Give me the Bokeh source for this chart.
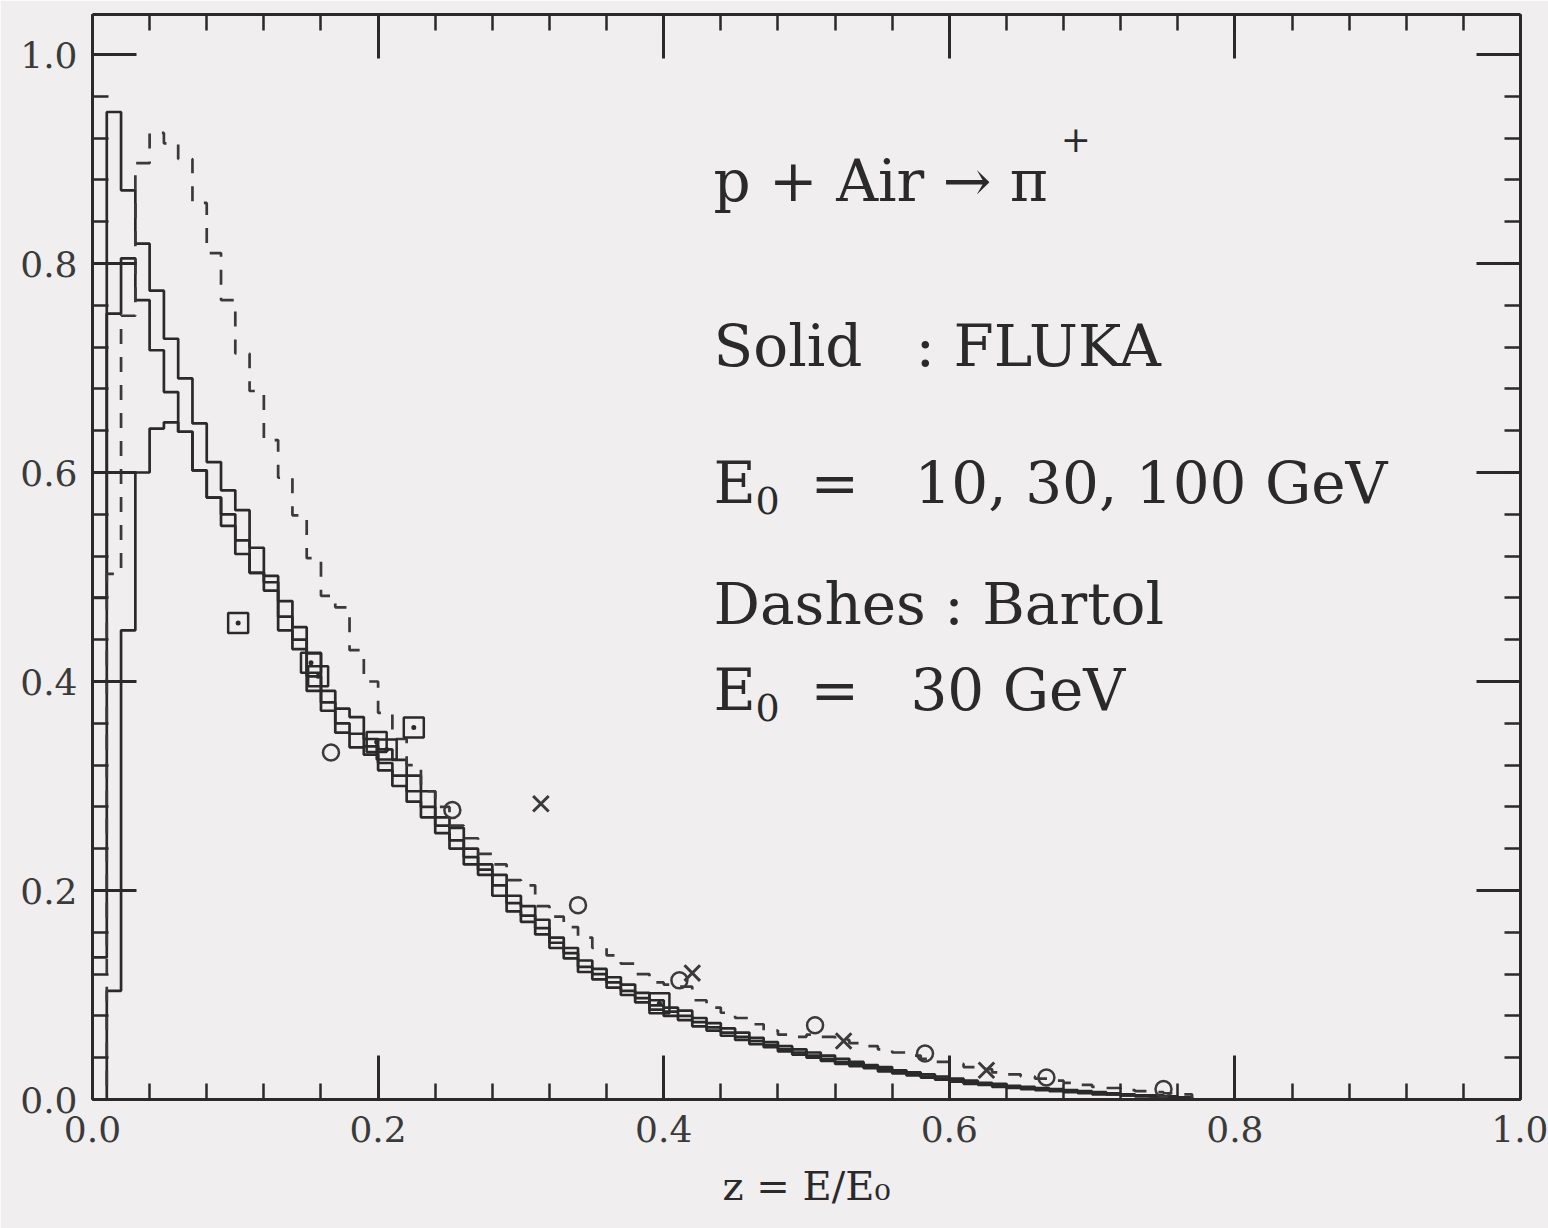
import numpy as np
from bokeh.plotting import figure
from bokeh.models import (Range1d, LinearAxis, SingleIntervalTicker,
                          PrintfTickFormatter, CustomJSTickFormatter, Label)
from bokeh.embed import file_html
from bokeh.resources import INLINE

# ---------------------------------------------------------------------------
# z * dN/dz for p + Air -> pi+, histogrammed in bins of width 0.01 in z
# ---------------------------------------------------------------------------
BIN_WIDTH = 0.01

fluka_100 = [0.480, 0.945, 0.870, 0.819, 0.774, 0.728, 0.690, 0.647, 0.610, 0.583,
             0.564, 0.528, 0.501, 0.477, 0.452, 0.427, 0.391, 0.374, 0.366, 0.345,
             0.335, 0.325, 0.310, 0.295, 0.270, 0.260, 0.240, 0.225, 0.215, 0.195,
             0.185, 0.172, 0.155, 0.145, 0.133, 0.125, 0.117, 0.110, 0.102, 0.095,
             0.088, 0.085, 0.078, 0.073, 0.068, 0.064, 0.059, 0.055, 0.051, 0.048,
             0.045, 0.042, 0.039, 0.036, 0.033, 0.031, 0.028, 0.026, 0.024, 0.022,
             0.020, 0.018, 0.016, 0.015, 0.013, 0.012, 0.011, 0.010, 0.009, 0.008,
             0.007, 0.006, 0.005, 0.004, 0.004, 0.003, 0.002]

fluka_30 = [0.136, 0.752, 0.805, 0.765, 0.717, 0.677, 0.639, 0.602, 0.576, 0.549,
            0.522, 0.504, 0.487, 0.449, 0.431, 0.391, 0.372, 0.351, 0.337, 0.330,
            0.315, 0.300, 0.285, 0.270, 0.255, 0.240, 0.225, 0.215, 0.195, 0.180,
            0.170, 0.158, 0.145, 0.135, 0.122, 0.115, 0.107, 0.100, 0.093, 0.086,
            0.080, 0.076, 0.070, 0.066, 0.061, 0.057, 0.053, 0.050, 0.046, 0.043,
            0.040, 0.037, 0.034, 0.032, 0.030, 0.027, 0.025, 0.023, 0.021, 0.019,
            0.017, 0.015, 0.014, 0.012, 0.011, 0.010, 0.009, 0.008, 0.007, 0.006,
            0.005, 0.005, 0.004, 0.003, 0.003, 0.002, 0.002]

fluka_10 = [0.000, 0.104, 0.449, 0.600, 0.642, 0.648, 0.639, 0.602, 0.576, 0.560,
            0.535, 0.504, 0.495, 0.462, 0.440, 0.405, 0.380, 0.360, 0.350, 0.338,
            0.322, 0.310, 0.295, 0.280, 0.262, 0.248, 0.232, 0.220, 0.205, 0.188,
            0.176, 0.164, 0.150, 0.140, 0.127, 0.120, 0.112, 0.104, 0.097, 0.090,
            0.084, 0.080, 0.074, 0.069, 0.064, 0.060, 0.056, 0.052, 0.048, 0.045,
            0.042, 0.039, 0.036, 0.034, 0.031, 0.029, 0.026, 0.024, 0.022, 0.020,
            0.018, 0.016, 0.015, 0.013, 0.012, 0.011, 0.010, 0.009, 0.008, 0.007,
            0.006, 0.005, 0.004, 0.004, 0.003, 0.002, 0.001]

bartol_30 = [0.000, 0.503, 0.750, 0.896, 0.925, 0.915, 0.900, 0.858, 0.810, 0.765,
             0.714, 0.678, 0.631, 0.595, 0.559, 0.518, 0.482, 0.471, 0.430, 0.400,
             0.370, 0.345, 0.320, 0.295, 0.280, 0.262, 0.250, 0.235, 0.225, 0.210,
             0.205, 0.185, 0.175, 0.165, 0.155, 0.145, 0.138, 0.130, 0.120, 0.112,
             0.110, 0.108, 0.095, 0.088, 0.083, 0.078, 0.072, 0.066, 0.062, 0.060,
             0.062, 0.060, 0.057, 0.054, 0.051, 0.048, 0.045, 0.042, 0.039, 0.036,
             0.034, 0.031, 0.029, 0.026, 0.024, 0.022, 0.020, 0.018, 0.016, 0.014,
             0.012, 0.011, 0.009, 0.008, 0.007, 0.006, 0.005]

# measured points
sq_z = [0.102, 0.153, 0.158, 0.199, 0.206, 0.225, 0.397]
sq_v = [0.456, 0.418, 0.405, 0.342, 0.335, 0.356, 0.092]

circ_z = [0.167, 0.252, 0.340, 0.411, 0.506, 0.583, 0.668, 0.750]
circ_v = [0.332, 0.277, 0.186, 0.114, 0.071, 0.044, 0.021, 0.010]

cross_z = [0.314, 0.420, 0.526, 0.626]
cross_v = [0.283, 0.121, 0.056, 0.028]

# ---------------------------------------------------------------------------
INK = "#2a2a2a"
LABEL_INK = "#3a3a3a"
PAPER = "#f0eeee"
SERIF = "DejaVu Serif"

p = figure(width=1548, height=1228, output_backend="svg", toolbar_location=None,
           x_range=Range1d(0, 1), y_range=Range1d(0, 1.0383),
           min_border_left=92, min_border_right=28,
           min_border_top=14, min_border_bottom=129,
           background_fill_color=PAPER, border_fill_color=PAPER)
p.grid.visible = False
p.outline_line_color = None


def style_axis(ax, with_labels):
    ax.ticker = SingleIntervalTicker(interval=0.2, num_minor_ticks=5)
    ax.axis_line_color = INK
    ax.axis_line_width = 3
    ax.major_tick_line_color = INK
    ax.minor_tick_line_color = INK
    ax.major_tick_line_width = 3
    ax.minor_tick_line_width = 2.5
    ax.major_tick_in = 44
    ax.major_tick_out = 0
    ax.minor_tick_in = 16
    ax.minor_tick_out = 0
    if with_labels:
        ax.formatter = PrintfTickFormatter(format="%.1f")
        ax.major_label_text_font = SERIF
        ax.major_label_text_font_size = "36px"
        ax.major_label_text_color = LABEL_INK
    else:
        ax.formatter = CustomJSTickFormatter(code="return ''")
        ax.major_label_standoff = 0


xaxis = p.below[0]
yaxis = p.left[0]
style_axis(xaxis, True)
style_axis(yaxis, True)
xaxis.major_label_standoff = 16
yaxis.major_label_standoff = 15
xaxis.axis_label = "z\u00a0=\u00a0E/E\u2080"
xaxis.axis_label_text_font = SERIF
xaxis.axis_label_text_font_size = "40px"
xaxis.axis_label_text_font_style = "normal"
xaxis.axis_label_text_color = INK
xaxis.axis_label_standoff = 18

top_axis = LinearAxis()
style_axis(top_axis, False)
p.add_layout(top_axis, "above")
right_axis = LinearAxis()
style_axis(right_axis, False)
p.add_layout(right_axis, "right")

# ---------------------------------------------------------------------------
# histograms drawn as steps over the bin edges
def edges_for(vals):
    return list(np.round(np.arange(len(vals) + 1) * BIN_WIDTH, 4))


for vals in (fluka_100, fluka_30, fluka_10):
    p.step(x=edges_for(vals), y=list(vals) + [0.0], mode="after",
           line_color=INK, line_width=2.7)

p.step(x=edges_for(bartol_30), y=list(bartol_30) + [0.0], mode="after",
       line_color="#3a3a3a", line_width=2.7, line_dash="15 13")

# data points
p.scatter(sq_z, sq_v, marker="square_dot", size=20, fill_color=None,
          line_color=INK, line_width=2.5)
p.scatter(circ_z, circ_v, marker="circle", size=16, fill_color=None,
          line_color="#3a3a3a", line_width=2.5)
p.scatter(cross_z, cross_v, marker="x", size=22, line_color="#3a3a3a",
          line_width=3)

# ---------------------------------------------------------------------------
# annotation block
def note(x, y, text, size="58px"):
    p.add_layout(Label(x=x, y=y, text=text, text_font=SERIF,
                       text_font_size=size, text_color=INK,
                       text_baseline="alphabetic", text_align="left"))


note(0.4349, 0.8794, "p + Air \u2192 \u03c0")
note(0.6780, 0.9196, "+", "36px")

note(0.4349, 0.7215, "Solid")
note(0.5763, 0.7215, ": FLUKA")

note(0.4349, 0.5904, "E")
note(0.4643, 0.5732, "0", "38px")
note(0.5028, 0.5904, "=")
note(0.5756, 0.5904, "10, 30, 100 GeV")

note(0.4349, 0.4746, "Dashes : Bartol")

note(0.4349, 0.3923, "E")
note(0.4643, 0.3751, "0", "38px")
note(0.5028, 0.3923, "=")
note(0.5728, 0.3923, "30 GeV")

open("out.html", "w").write(file_html(p, INLINE))
